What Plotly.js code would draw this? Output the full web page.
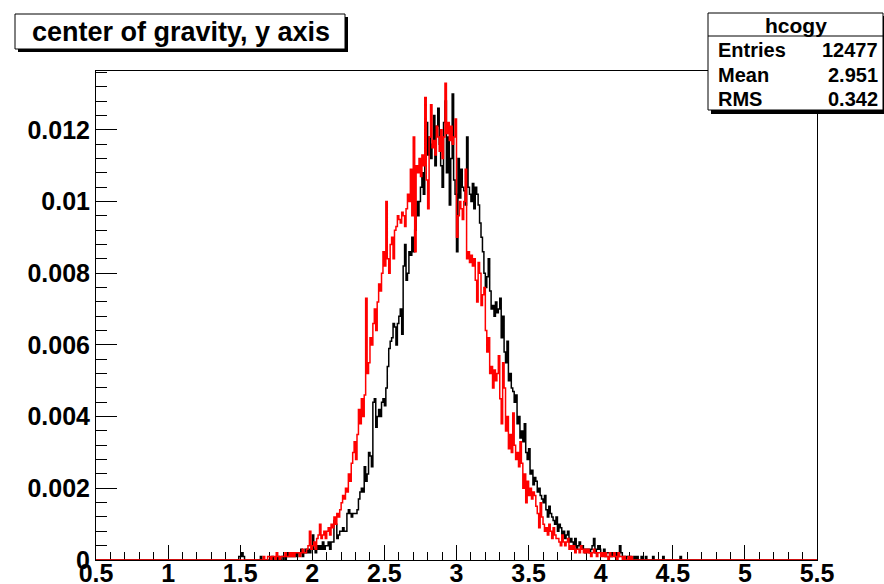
<!DOCTYPE html>
<html>
<head>
<meta charset="utf-8">
<script src="https://cdn.plot.ly/plotly-3.0.1.min.js"></script>
<style>
  html, body { margin: 0; padding: 0; background: #fff; }
  #plot { width: 884px; height: 584px; }
</style>
</head>
<body>
<div id="plot"></div>
<script>
// Histogram binning: 500 bins of width 0.01 over [0.5, 5.5]
const histLow = 0.5;
const histHigh = 5.5;
const nBins = 500;
// Stored contents start at this bin low edge; bins outside are empty
const storedFrom = 1.40;

// hcogy: normalised bin contents, in units of 1e-4 (rows of 0.1 in x)
const hcogy = [
  0,0,0,0,0,0,0,0,0,1,
  1,2,1,0,0,0,0,0,0,0,
  0,0,0,0,1,0,0,0,0,0,
  0,0,1,0,0,0,1,0,0,1,
  1,0,2,1,2,1,2,1,2,1,
  2,2,3,1,2,3,2,3,2,3,
  7,3,2,4,3,4,3,5,3,4,
  4,5,3,5,5,11,10,6,7,8,
  8,9,8,8,13,14,13,12,13,13,
  13,14,17,19,20,19,26,22,24,30,
  29,26,44,45,37,40,42,40,44,45,
  43,48,54,59,61,62,66,65,60,66,
  68,70,63,82,88,78,80,86,85,90,
  86,92,100,96,100,104,108,102,112,122,
  113,118,112,116,124,110,121,126,116,110,
  104,122,128,108,118,99,112,130,106,102,
  86,112,101,109,104,103,99,118,104,102,
  100,105,98,104,102,99,94,90,86,80,
  76,79,84,75,70,71,68,72,69,70,
  73,62,68,58,55,61,50,52,48,47,
  44,46,38,40,34,36,33,38,30,28,
  31,24,25,21,23,22,19,20,18,17,
  16,18,14,12,15,13,12,11,10,12,
  8,10,9,7,8,6,7,8,5,6,
  5,4,6,3,4,5,3,4,3,2,
  3,3,2,3,4,6,2,3,4,3,
  2,2,3,1,2,2,2,1,2,2,
  1,2,1,4,2,1,1,0,1,1,
  1,0,0,1,0,1,0,0,1,0,
  0,1,0,0,0,0,1,0,0,0,
  0,0,0,1,0,0,0,0,0,0,
  0,0,0,0,0,1,0,0,0,0
];

// Overlaid comparison distribution, same units and binning
const overlay = [
  0,0,0,0,0,0,0,0,0,0,
  0,0,0,0,0,0,0,0,0,0,
  0,0,0,0,0,0,1,0,0,1,
  1,0,1,1,0,2,1,0,1,1,
  1,2,1,1,2,1,2,1,2,2,
  2,1,2,3,2,2,3,4,8,3,
  4,5,3,6,7,10,6,7,8,6,
  8,9,7,10,9,12,10,13,12,14,
  16,18,17,20,19,24,22,27,30,33,
  28,35,42,38,45,40,46,73,52,55,
  62,60,66,70,64,72,77,75,80,86,
  82,100,84,80,88,90,84,92,93,96,
  95,94,97,96,93,98,102,100,109,96,
  118,86,110,108,112,107,113,110,129,106,
  98,118,127,115,117,113,121,118,114,120,
  112,118,133,119,122,117,121,116,118,123,
  90,96,100,98,95,100,109,84,86,83,
  85,82,84,78,72,83,80,71,74,76,
  64,58,62,52,54,48,53,50,52,57,
  45,38,55,48,36,40,31,35,30,41,
  32,28,30,26,33,27,20,24,16,22,
  18,20,17,19,18,15,13,9,16,12,
  10,8,9,7,10,8,6,9,7,6,
  6,5,4,7,5,4,5,6,3,4,
  3,4,2,3,3,2,4,3,2,3,
  2,3,2,1,2,3,2,1,2,2,
  1,2,1,2,1,0,2,1,1,2,
  1,0,2,1,1,0,1,0,0,1,
  0,1,0,0,0,0,0,0,0,0,
  0,0,0,0,0,0,0,0,0,0,
  0,0,0,0,0,0,0,0,0,0,
  0,0,0,0,0,0,0,0,0,0
];

const contentUnit = 1e-4;

// Statistics box contents
const statsName = 'hcogy';
const statsRows = [['Entries', '12477'], ['Mean', '2.951'], ['RMS', '0.342']];
const titleText = 'center of gravity, y axis';

const xTicks = [0.5, 1, 1.5, 2, 2.5, 3, 3.5, 4, 4.5, 5, 5.5];
const xTickText = ['0.5', '1', '1.5', '2', '2.5', '3', '3.5', '4', '4.5', '5', '5.5'];
const yTicks = [0, 0.002, 0.004, 0.006, 0.008, 0.01, 0.012];
const yTickText = ['0', '0.002', '0.004', '0.006', '0.008', '0.01', '0.012'];
const yMax = 0.01364;

// Turn stored bin contents into a full step outline over the histogram range
function stepOutline(contents) {
  const width = (histHigh - histLow) / nBins;
  const offset = Math.round((storedFrom - histLow) / width);
  const xs = [], ys = [];
  for (let i = 0; i < nBins; i++) {
    const j = i - offset;
    const v = (j >= 0 && j < contents.length) ? contents[j] * contentUnit : 0;
    xs.push(Math.round((histLow + i * width) * 1000) / 1000);
    ys.push(v);
  }
  xs.push(histHigh);
  ys.push(ys[ys.length - 1]);
  return { x: xs, y: ys };
}

const blackStep = stepOutline(hcogy);
const redStep = stepOutline(overlay);

const traces = [
  { type: 'scatter', mode: 'lines', x: blackStep.x, y: blackStep.y,
    line: { shape: 'hv', color: '#000000', width: 1.5 }, hoverinfo: 'skip' },
  { type: 'scatter', mode: 'lines', x: redStep.x, y: redStep.y,
    line: { shape: 'hv', color: '#ff0000', width: 1.5 }, hoverinfo: 'skip' }
];

// Page geometry (pixels) for the frame and the boxes drawn outside it
const W = 884, H = 584;
const M = { l: 96, r: 67, t: 71, b: 24 };
const PW = W - M.l - M.r, PH = H - M.t - M.b;
const px = v => (v - M.l) / PW;
const py = v => (H - M.b - v) / PH;

const font = { family: 'Liberation Sans, Arial, Helvetica, sans-serif', color: '#000', weight: 'bold' };

const shapes = [];
const annotations = [];

// Title box with drop shadow
shapes.push({ type: 'rect', xref: 'paper', yref: 'paper',
  x0: px(18), x1: px(348), y0: py(17), y1: py(52),
  fillcolor: '#000', line: { width: 0 } });
shapes.push({ type: 'rect', xref: 'paper', yref: 'paper',
  x0: px(15), x1: px(345), y0: py(14), y1: py(49),
  fillcolor: '#fff', line: { color: '#000', width: 1 } });
annotations.push({ xref: 'paper', yref: 'paper', x: px(181), y: py(31.5),
  text: titleText, showarrow: false, xanchor: 'center', yanchor: 'middle',
  font: Object.assign({}, font, { size: 27 }) });

// Statistics box with drop shadow
shapes.push({ type: 'rect', xref: 'paper', yref: 'paper',
  x0: px(711), x1: px(886), y0: py(16), y1: py(114),
  fillcolor: '#000', line: { width: 0 } });
shapes.push({ type: 'rect', xref: 'paper', yref: 'paper',
  x0: px(708), x1: px(883), y0: py(13), y1: py(110),
  fillcolor: '#fff', line: { color: '#000', width: 1 } });
shapes.push({ type: 'line', xref: 'paper', yref: 'paper',
  x0: px(708), x1: px(883), y0: py(36), y1: py(36),
  line: { color: '#000', width: 1 } });
annotations.push({ xref: 'paper', yref: 'paper', x: px(796), y: py(25),
  text: statsName, showarrow: false, xanchor: 'center', yanchor: 'middle',
  font: Object.assign({}, font, { size: 21 }) });
const rowY = [50, 75, 99];
statsRows.forEach((row, k) => {
  annotations.push({ xref: 'paper', yref: 'paper', x: px(716), y: py(rowY[k]),
    text: row[0], showarrow: false, xanchor: 'left', yanchor: 'middle',
    font: Object.assign({}, font, { size: 20 }) });
  annotations.push({ xref: 'paper', yref: 'paper', x: px(880), y: py(rowY[k]),
    text: row[1], showarrow: false, xanchor: 'right', yanchor: 'middle',
    font: Object.assign({}, font, { size: 20 }) });
});

const layout = {
  width: W, height: H,
  margin: M,
  paper_bgcolor: '#fff', plot_bgcolor: '#fff',
  showlegend: false,
  font: font,
  xaxis: {
    range: [histLow, histHigh], fixedrange: true,
    tickmode: 'array', tickvals: xTicks, ticktext: xTickText,
    ticks: 'inside', ticklen: 15, tickwidth: 1, tickcolor: '#000',
    minor: { ticks: 'inside', ticklen: 8, dtick: 0.1, tick0: 0.5, tickwidth: 1, tickcolor: '#000' },
    showline: true, linecolor: '#000', linewidth: 1, mirror: true,
    showgrid: false, zeroline: false, layer: 'below traces',
    ticklabelstandoff: -9,
    tickfont: Object.assign({}, font, { size: 25 })
  },
  yaxis: {
    range: [0, yMax], fixedrange: true,
    tickmode: 'array', tickvals: yTicks, ticktext: yTickText,
    ticks: 'inside', ticklen: 21, tickwidth: 1, tickcolor: '#000',
    minor: { ticks: 'inside', ticklen: 11, dtick: 0.0004, tick0: 0, tickwidth: 1, tickcolor: '#000' },
    showline: true, linecolor: '#000', linewidth: 1, mirror: true,
    showgrid: false, zeroline: false, layer: 'below traces',
    tickfont: Object.assign({}, font, { size: 25 })
  },
  shapes: shapes,
  annotations: annotations
};

Plotly.newPlot('plot', traces, layout, { staticPlot: true, displayModeBar: false });
</script>
</body>
</html>
